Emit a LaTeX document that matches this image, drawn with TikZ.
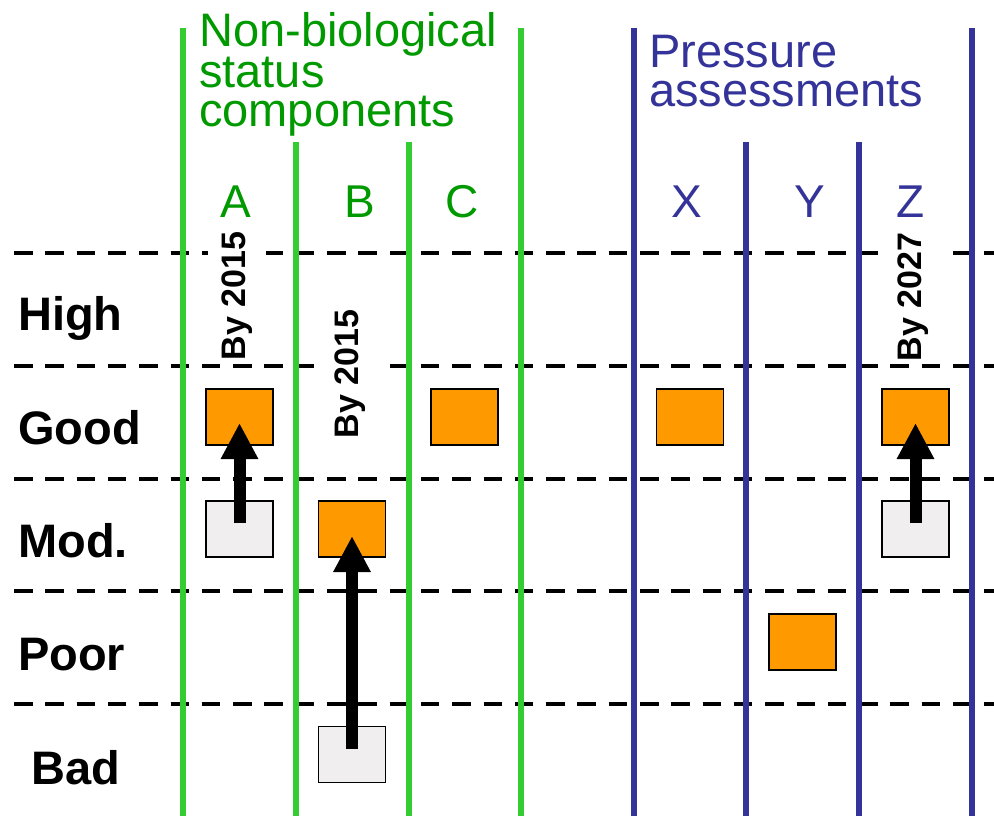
\documentclass[tikz,border=0pt]{standalone}
\usepackage{fontspec}
\setmainfont{Liberation Sans}
\usepackage{tikz}
\usetikzlibrary{arrows.meta,positioning}
\definecolor{bargreen}{HTML}{33CC33}
\definecolor{textgreen}{HTML}{009900}
\definecolor{navy}{HTML}{333399}
\definecolor{statusorange}{HTML}{FF9900}
\definecolor{nowgrey}{HTML}{F0EEEE}
\tikzstyle{line} = [draw, line width=12pt, -{Triangle[width=35pt,length=36pt]}]
\tikzstyle{classline} = [draw, line width=4pt, dash pattern=on 18.5pt off 12.8pt]
\tikzstyle{greenbar} = [draw=bargreen, line width=5.5pt]
\tikzstyle{bluebar} = [draw=navy, line width=5.5pt]
\tikzstyle{target} = [draw, rectangle, line width=1.5pt, fill=statusorange, minimum width=67pt, minimum height=56pt, inner sep=0pt]
\tikzstyle{present} = [target, fill=nowgrey]
\tikzstyle{rowlabel} = [anchor=base west, inner sep=0pt, font=\fontsize{47}{47}\selectfont\bfseries]
\tikzstyle{collabel} = [anchor=base, inner sep=0pt, font=\fontsize{46}{46}\selectfont]
\tikzstyle{grouptitle} = [anchor=north west, inner sep=0pt, align=left, font=\fontsize{47}{39}\selectfont]
\tikzstyle{deadline} = [rotate=90, fill=white, inner xsep=1pt, inner ysep=14pt, font=\fontsize{34}{34}\selectfont\bfseries]

\begin{document}
\begin{tikzpicture}[x=1pt, y=-1pt, node distance = 112pt]
        \useasboundingbox (0,0) rectangle (994,816);
        % class boundaries
        \path[classline] (14,253) -- (994,253);
        \path[classline] (14,366) -- (994,366);
        \path[classline] (14,479) -- (994,479);
        \path[classline] (14,591) -- (994,591);
        \path[classline] (14,704) -- (994,704);
        % columns
        \path[greenbar] (183,28) -- (183,816);
        \path[greenbar] (296,142) -- (296,816);
        \path[greenbar] (409,142) -- (409,816);
        \path[greenbar] (521,28) -- (521,816);
        \path[bluebar] (634,28) -- (634,816);
        \path[bluebar] (746,142) -- (746,816);
        \path[bluebar] (859,142) -- (859,816);
        \path[bluebar] (972,28) -- (972,816);
        % headings
        \node[grouptitle, text=textgreen] (nonbio) at (199,12) {Non-biological\\status\\components};
        \node[grouptitle, text=navy] (pressure) at (649,35) {Pressure\\assessments};
        \node[collabel, text=textgreen] (colA) at (236,217) {A};
        \node[collabel, text=textgreen] (colB) at (360,217) {B};
        \node[collabel, text=textgreen] (colC) at (462,217) {C};
        \node[collabel, text=navy] (colX) at (687,217) {X};
        \node[collabel, text=navy] (colY) at (810,217) {Y};
        \node[collabel, text=navy] (colZ) at (911,217) {Z};
        % classes
        \node[rowlabel] (high) at (18,330) {High};
        \node[rowlabel] (good) at (18,444) {Good};
        \node[rowlabel] (mod) at (18,557) {Mod.};
        \node[rowlabel] (poor) at (18,670) {Poor};
        \node[rowlabel] (bad) at (31,784) {Bad};
        % status now and targets
        \node[target] (goodA) at (239.5,417) {};
        \node[present, below of=goodA] (modA) {};
        \node[target] (modB) at (352,529) {};
        \node[present, below of=modB, node distance = 225.5pt] (badB) {};
        \node[target] (goodC) at (464.5,417) {};
        \node[target] (goodX) at (690,417) {};
        \node[target] (poorY) at (802.5,642) {};
        \node[target] (goodZ) at (915.5,417) {};
        \node[present, below of=goodZ] (modZ) {};
        \node[deadline] (byA) at (237,296) {By 2015};
        \node[deadline] (byB) at (350,374) {By 2015};
        \node[deadline] (byZ) at (913,297) {By 2027};
        \path[line, shorten <=6pt, shorten >=6pt] (modA.center) -- (goodA.center);
        \path[line, shorten <=5.5pt, shorten >=7pt] (badB.center) -- (modB.center);
        \path[line, shorten <=6pt, shorten >=6pt] (modZ.center) -- (goodZ.center);
    \end{tikzpicture}
\end{document}
